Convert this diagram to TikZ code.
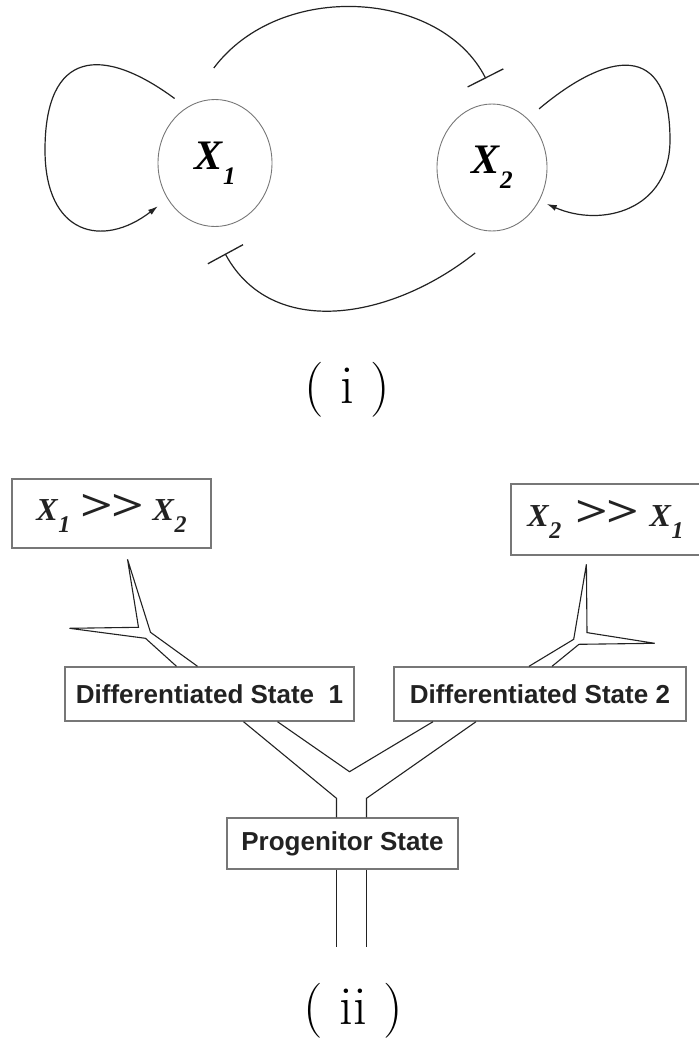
\documentclass[tikz,border=0pt]{standalone}
\usepackage{fontspec}
\usepackage{graphicx}
\usetikzlibrary{arrows.meta,shapes.geometric}
\newfontfamily\timesf{Liberation Serif}
\newfontfamily\arialf{Liberation Sans}
\definecolor{rim}{HTML}{777777}
\definecolor{ink}{HTML}{222222}
% X with a subscript, in bold italic
\newcommand{\Xv}[2][0.6]{{\timesf\bfseries\itshape X\kern0.02em\raisebox{-0.36em}{\scalebox{#1}{#2}}}}
\newcommand{\dgtr}{{\timesf\bfseries\scalebox{1.8}[1.4]{>}\kern-0.05em\scalebox{1.8}[1.4]{>}}}
\tikzset{
  state/.style={ellipse,draw=rim,line width=0.9pt,inner sep=0pt},
  selfact/.style={ink,line width=1.2pt,-{Latex[length=10pt,width=6pt]}},
  inhib/.style={ink,line width=1.2pt,-{Bar[width=40pt,line width=1.3pt]}},
  fatebox/.style={draw=rim,line width=1.4pt,inner sep=0pt,text=ink,
    font=\fontsize{26}{26}\selectfont\arialf\bfseries},
  chan/.style={ink,line width=1.1pt,line join=miter}
}
\begin{document}
\begin{tikzpicture}[x=1pt,y=-1pt]
\useasboundingbox (0,0) rectangle (699,1042);
\node [state,minimum width=114pt,minimum height=127pt] (x1) at (215,163) {\fontsize{42}{42}\selectfont\Xv{1}};
\node [state,minimum width=110pt,minimum height=127pt] (x2) at (492,167.5) {\fontsize{42}{42}\selectfont\Xv{2}};
\draw [selfact,shorten <=15pt,shorten >=12pt] (x1.117) .. controls (102,45) and (45,50) .. (45,150)
  .. controls (45,235) and (102.7,248.7) .. (x1.217);
\draw [selfact,shorten <=15pt,shorten >=8pt] (x2.54) .. controls (607.4,51.5) and (670,40) .. (670,140)
  .. controls (670,210) and (602,228) .. (x2.325);
\draw [inhib,shorten <=54pt,shorten >=28.6pt] (x1.123) .. controls (280.6,-20.8) and (441,-10) .. (x2.84);
\draw [inhib,shorten <=37pt,shorten >=30.6pt] (x2.281) .. controls (391,320) and (272,340) .. (x1.266);
\node (labi) at (347,390) {\fontsize{55}{55}\selectfont( i )};

\node [fatebox,minimum width=199pt,minimum height=69pt] (hi12) at (111.5,513.5)
  {\fontsize{32}{32}\selectfont\Xv[0.75]{1}\hspace{10pt}\dgtr\hspace{8pt}\Xv[0.75]{2}};
\node [fatebox,minimum width=189pt,minimum height=71pt] (hi21) at (605.5,519.5)
  {\fontsize{32}{32}\selectfont\Xv[0.75]{2}\hspace{14pt}\dgtr\hspace{10pt}\Xv[0.75]{1}};
\node [fatebox,minimum width=289pt,minimum height=54pt] (diff1) at (209.5,694) {Differentiated State\ \ 1};
\node [fatebox,minimum width=292pt,minimum height=54pt] (diff2) at (540,694) {Differentiated State 2};
\node [fatebox,minimum width=231pt,minimum height=51pt] (prog) at (342.5,843.5) {Progenitor State};
\node (labii) at (353,1011) {\fontsize{55}{55}\selectfont( ii )};

% channels of the landscape
\draw [chan] ([xshift=-6pt]prog.north) -- ++(0,-19) -- ([xshift=34pt]diff1.south);
\draw [chan] ([xshift=68pt]diff1.south) -- ++(72,50) -- ([xshift=-107pt]diff2.south);
\draw [chan] ([xshift=24pt]prog.north) -- ++(0,-19) -- ([xshift=-64pt]diff2.south);
\draw [chan] ([xshift=-6pt]prog.south) -- ++(0,77);
\draw [chan] ([xshift=24pt]prog.south) -- ++(0,77);
\draw [chan] ([xshift=-33pt]diff1.north) -- ++(-31,-28) -- ++(-76,-10) -- ++(69,-1)
  -- ++(-11,-68) -- ++(23,73) -- ([xshift=-12pt]diff1.north);
\draw [chan] ([xshift=-11pt]diff2.north) -- ++(44.7,-27) -- ++(12.7,-75) -- ++(0.6,68.3)
  -- ++(67.7,10.7) -- ++(-75.7,1) -- ([xshift=12pt]diff2.north);
\end{tikzpicture}
\end{document}
